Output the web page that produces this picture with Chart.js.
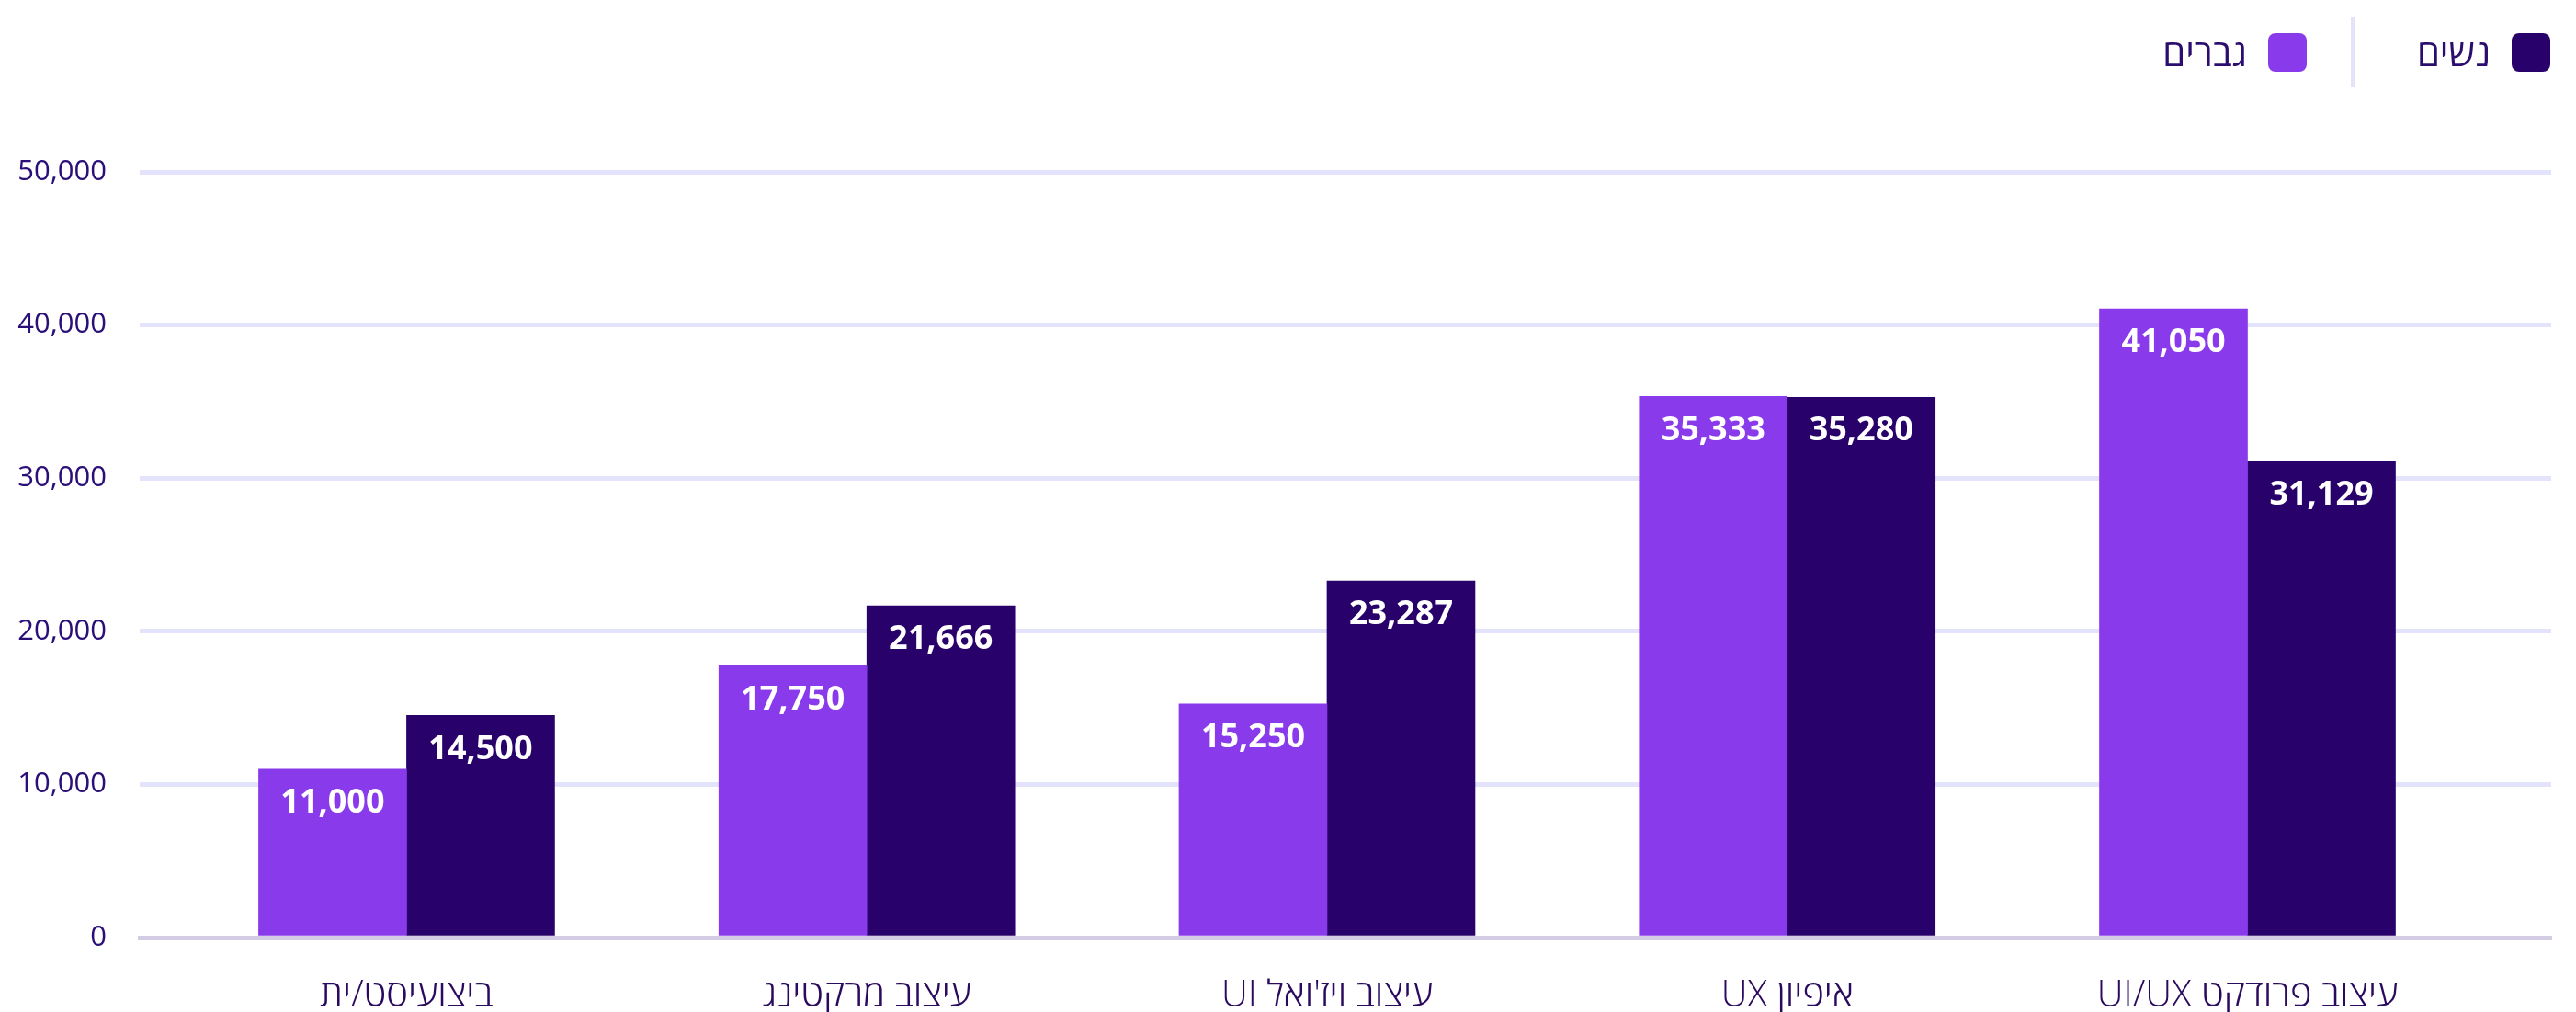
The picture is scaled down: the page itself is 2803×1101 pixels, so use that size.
<!DOCTYPE html>
<html lang="he">
<head>
<meta charset="utf-8">
<title>שכר לפי תפקיד</title>
<script src="https://cdn.jsdelivr.net/npm/chart.js@4"></script>
<style>
  html, body { margin: 0; padding: 0; background: #ffffff; overflow: hidden; width: 2803px; height: 1101px; }
  #wrap { position: absolute; left: 0; top: 0; width: 2803px; height: 1148px; }
  #legend { position: absolute; top: 18px; right: 28px; height: 77px; display: flex; flex-direction: row; align-items: center; direction: rtl;
            font-family: "Open Sans", "Noto Sans", "DejaVu Sans", sans-serif; font-size: 40px; color: #2a0d6e; }
  .item { display: flex; align-items: center; direction: rtl; }
  .box { width: 42px; height: 42px; border-radius: 8px; margin-left: 23px; }
  .sep { width: 4px; height: 77px; background: #e3e3fa; margin: 0 68px 0 48px; }
</style>
</head>
<body>
<div id="wrap"><canvas id="c" dir="rtl"></canvas></div>
<div id="legend"></div>
<script>
// ---- data ----
const categories = ['ביצועיסט/ית', 'עיצוב מרקטינג', "עיצוב ויז'ואל UI", 'איפיון UX', 'עיצוב פרודקט UI/UX'];
const seriesNames = ['גברים', 'נשים'];
const menValues = [11000, 17750, 15250, 35333, 41050];
const womenValues = [14500, 21666, 23287, 35280, 31129];
const yTicks = [0, 10000, 20000, 30000, 40000, 50000];

const colors = ['#893beb', '#28026a'];
const fmt = v => Number(v).toLocaleString('en-US');

// HTML legend (right-most item is נשים)
const legendEl = document.getElementById('legend');
[1, 0].forEach((si, k) => {
  if (k > 0) { const s = document.createElement('div'); s.className = 'sep'; legendEl.appendChild(s); }
  const it = document.createElement('div'); it.className = 'item';
  const b = document.createElement('div'); b.className = 'box'; b.style.background = colors[si];
  const t = document.createElement('span'); t.textContent = seriesNames[si];
  it.appendChild(b); it.appendChild(t); legendEl.appendChild(it);
});

const toPoints = arr => arr.map((v, i) => ({ x: i, y: v }));

const valueLabels = {
  id: 'valueLabels',
  afterDatasetsDraw(chart) {
    const ctx = chart.ctx;
    ctx.save();
    ctx.font = 'bold 36px "Open Sans", "DejaVu Sans", sans-serif';
    ctx.fillStyle = '#ffffff';
    ctx.textAlign = 'center';
    ctx.textBaseline = 'middle';
    chart.data.datasets.forEach((ds, di) => {
      const meta = chart.getDatasetMeta(di);
      meta.data.forEach((el, i) => {
        ctx.fillText(fmt(ds.data[i].y), el.x, el.y + 37);
      });
    });
    ctx.restore();
  }
};

new Chart(document.getElementById('c'), {
  type: 'bar',
  data: {
    datasets: [
      { label: seriesNames[0], data: toPoints(menValues), backgroundColor: colors[0], barThickness: 161 },
      { label: seriesNames[1], data: toPoints(womenValues), backgroundColor: colors[1], barThickness: 161 }
    ]
  },
  options: {
    responsive: true,
    maintainAspectRatio: false,
    animation: false,
    layout: { padding: { top: 187, right: 27, bottom: 0, left: 0 } },
    plugins: { legend: { display: false }, tooltip: { enabled: false } },
    scales: {
      x: {
        type: 'linear',
        offset: false,
        min: -0.58,
        max: 4.66,
        grid: { display: false, drawTicks: false },
        border: { display: true, color: '#d4cce4', width: 5 },
        ticks: {
          stepSize: 1,
          includeBounds: false,
          autoSkip: false,
          maxRotation: 0,
          padding: 40,
          color: '#2a0a5e',
          font: { family: '"Open Sans", "Noto Sans", "DejaVu Sans", sans-serif', size: 40, weight: '300' },
          callback: v => (Number.isInteger(v) && categories[v] !== undefined) ? categories[v] : ''
        }
      },
      y: {
        min: yTicks[0],
        max: yTicks[yTicks.length - 1],
        afterBuildTicks: scale => { scale.ticks = yTicks.map(v => ({ value: v })); },
        afterFit: scale => { scale.width = 152; },
        border: { display: false },
        grid: {
          drawTicks: false,
          lineWidth: 5,
          color: c => (c.tick && c.tick.value === 0) ? '#d4cce4' : '#e3e3fb'
        },
        ticks: {
          padding: 36,
          color: '#2b0f78',
          font: { family: '"Open Sans", "DejaVu Sans", sans-serif', size: 31 },
          callback: v => fmt(v)
        }
      }
    }
  },
  plugins: [valueLabels]
});
</script>
</body>
</html>
